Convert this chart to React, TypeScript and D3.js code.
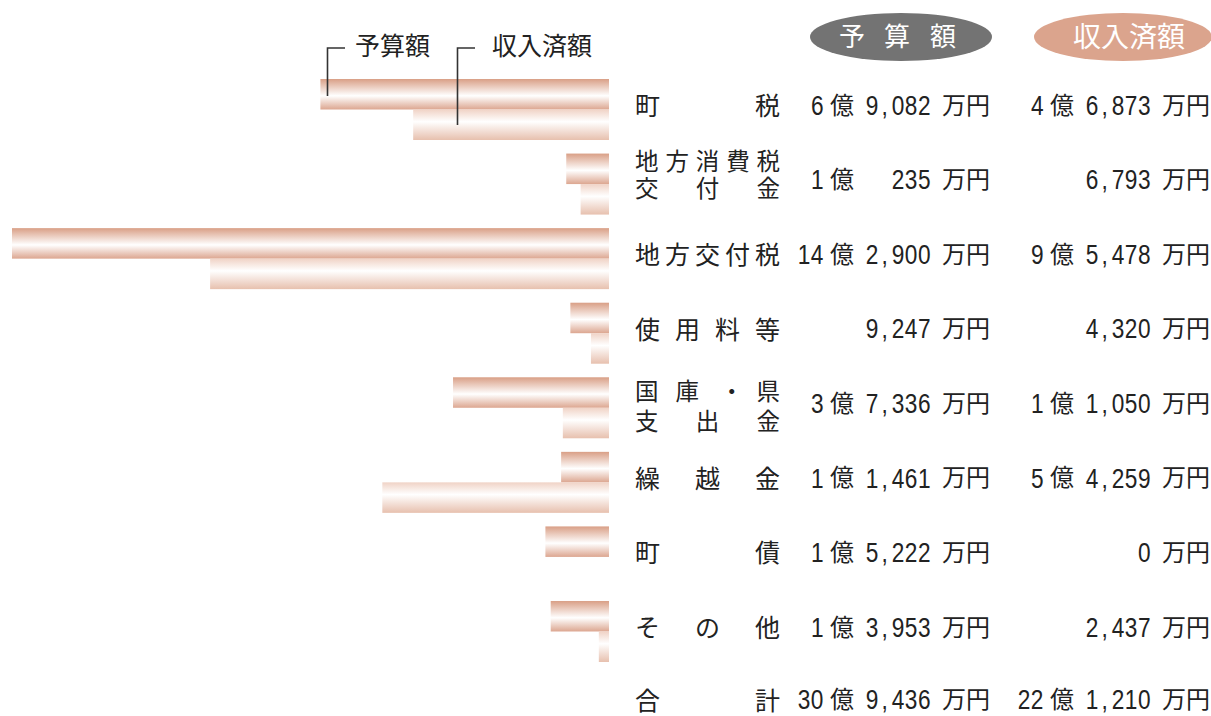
import React from "react";
import * as d3 from "d3";

const categories: string[][] = [
  ["町税"],
  ["地方消費税", "交付金"],
  ["地方交付税"],
  ["使用料等"],
  ["国庫・県", "支出金"],
  ["繰越金"],
  ["町債"],
  ["その他"],
];
const budget = [69082, 10235, 142900, 9247, 37336, 11461, 15222, 13953];
const received = [46873, 6793, 95478, 4320, 11050, 54259, 0, 2437];
const totalLabel = ["合計"];
const totalBudget = 309436;
const totalReceived = 221210;
const legendLabels = ["予算額", "収入済額"];
const annotLabels = ["予算額", "収入済額"];

const W = 1211;
const H = 716;
const baseX = 609;
const rowTop0 = 79;
const rowStep = 74.57;
const barH = 30.5;
const CJK = "'Noto Sans CJK JP', 'Noto Sans', sans-serif";
const NUM = "'Liberation Sans', Arial, sans-serif";
const TXT = "#222";

const x = d3.scaleLinear().domain([0, 142900]).range([0, 597]);

function CatLabel({ lines, top, centersIn }: { lines: string[]; top: number; centersIn?: number[] }) {
  const fs = lines.length === 1 ? 25 : 23.5;
  const left = 635;
  const right = 780;
  const centers = centersIn || (lines.length === 1 ? [top + 27] : [top + 10, top + 36]);
  return (
    <g>
      {lines.map((ln, li) => {
        const chars = Array.from(ln);
        const n = chars.length;
        const step = n > 1 ? (right - left - fs) / (n - 1) : 0;
        return chars.map((c, ci) => (
          <text
            key={li + "-" + ci}
            x={left + ci * step + (c === "・" ? 4 : 0)}
            y={centers[li]}
            dy="0.36em"
            fontFamily={CJK}
            fontSize={fs}
            fill={TXT}
          >
            {c}
          </text>
        ));
      })}
    </g>
  );
}

// narrow digits: Liberation Sans compressed horizontally, comma given extra room
function Num({ xr, cy, s }: { xr: number; cy: number; s: string }) {
  const parts = s.split(",");
  return (
    <text
      transform={`translate(${xr},${cy}) scale(0.84,1)`}
      dy="0.36em"
      textAnchor="end"
      fontFamily={NUM}
      fontSize={27}
      letterSpacing={0.6}
      fill={TXT}
    >
      {parts.map((p, i) => (
        <React.Fragment key={i}>
          {i > 0 && <tspan dx={3}>,</tspan>}
          <tspan dx={i > 0 ? 4 : 0}>{p}</tspan>
        </React.Fragment>
      ))}
    </text>
  );
}

function Value({ v, end, cy }: { v: number; end: number; cy: number }) {
  const oku = Math.floor(v / 10000);
  const man = v % 10000;
  const manStr = d3.format(",")(man);
  return (
    <g>
      <text x={end} y={cy} dy="0.36em" textAnchor="end" fontFamily={CJK} fontSize={24} fill={TXT}>
        万円
      </text>
      <Num xr={end - 59} cy={cy} s={manStr} />
      {oku > 0 && (
        <>
          <text x={end - 160} y={cy} dy="0.36em" fontFamily={CJK} fontSize={24} fill={TXT}>
            億
          </text>
          <Num xr={end - 166} cy={cy} s={String(oku)} />
        </>
      )}
    </g>
  );
}

export default function App() {
  const twoLineCenters: Record<number, number[]> = {
    1: [162, 189],
    4: [392, 422],
  };
  const legendChars = Array.from(legendLabels[0]);
  const legendCx = [852, 897, 943];
  const totalTop = rowTop0 + 8 * rowStep - 2;
  return (
    <svg
      width={W}
      height={H}
      viewBox={`0 0 ${W} ${H}`}
      style={{ position: "absolute", left: 0, top: 0, background: "#fff" }}
    >
      <defs>
        <linearGradient id="gBudget" x1="0" y1="0" x2="0" y2="1">
          <stop offset="0" stopColor="#d99f86" />
          <stop offset="0.55" stopColor="#ffffff" />
          <stop offset="1" stopColor="#dca690" />
        </linearGradient>
        <linearGradient id="gRecv" x1="0" y1="0" x2="0" y2="1">
          <stop offset="0" stopColor="#f0d3c6" />
          <stop offset="0.4" stopColor="#ffffff" />
          <stop offset="1" stopColor="#e7c0ae" />
        </linearGradient>
      </defs>

      {/* legend pills */}
      <ellipse cx={901} cy={37} rx={91} ry={24} fill="#737373" />
      {legendChars.map((c, i) => (
        <text key={i} x={legendCx[i]} y={37} dy="0.36em" textAnchor="middle" fontFamily={CJK} fontSize={26} fill="#fff">
          {c}
        </text>
      ))}
      <ellipse cx={1123} cy={37} rx={89} ry={24} fill="#dba48d" />
      <text x={1129} y={37} dy="0.36em" textAnchor="middle" fontFamily={CJK} fontSize={28} fill="#fff">
        {legendLabels[1]}
      </text>

      {/* bars */}
      {budget.map((b, i) => {
        const top = rowTop0 + i * rowStep;
        const r = received[i];
        return (
          <g key={i}>
            {b > 0 && <rect x={baseX - x(b)} y={top} width={x(b)} height={barH} fill="url(#gBudget)" />}
            {r > 0 && <rect x={baseX - x(r)} y={top + barH} width={x(r)} height={barH} fill="url(#gRecv)" />}
          </g>
        );
      })}

      {/* annotations */}
      <path d="M345,48 H327.5 V96" fill="none" stroke="#333" strokeWidth={1.6} />
      <path d="M475,48 H457.5 V125" fill="none" stroke="#333" strokeWidth={1.6} />
      <text x={355} y={46} dy="0.36em" fontFamily={CJK} fontSize={25} fill={TXT}>
        {annotLabels[0]}
      </text>
      <text x={492} y={46} dy="0.36em" fontFamily={CJK} fontSize={25} fill={TXT}>
        {annotLabels[1]}
      </text>

      {/* labels and values */}
      {categories.map((c, i) => {
        const top = rowTop0 + i * rowStep;
        return (
          <g key={i}>
            <CatLabel lines={c} top={top} centersIn={twoLineCenters[i]} />
            <Value v={budget[i]} end={990} cy={top + 26} />
            <Value v={received[i]} end={1210} cy={top + 26} />
          </g>
        );
      })}
      <CatLabel lines={totalLabel} top={totalTop} />
      <Value v={totalBudget} end={990} cy={totalTop + 26} />
      <Value v={totalReceived} end={1210} cy={totalTop + 26} />
    </svg>
  );
}
